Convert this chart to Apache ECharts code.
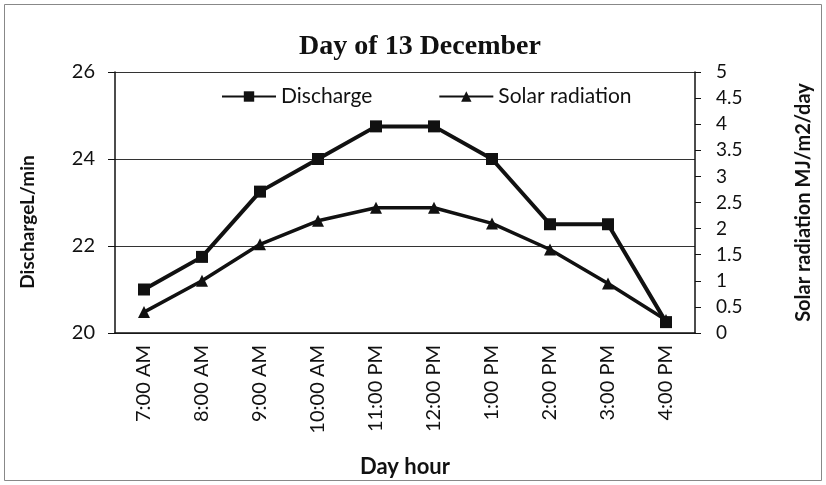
<!DOCTYPE html>
<html>
<head>
<meta charset="utf-8">
<title>Day of 13 December</title>
<script src="https://cdn.jsdelivr.net/npm/echarts@6/dist/echarts.min.js"></script>
<style>
  html, body { margin: 0; padding: 0; background: #fff; }
  #chart { width: 826px; height: 485px; }
</style>
</head>
<body>
<div id="chart"></div>
<script>
// data
var hours = ['7:00 AM', '8:00 AM', '9:00 AM', '10:00 AM', '11:00 PM', '12:00 PM', '1:00 PM', '2:00 PM', '3:00 PM', '4:00 PM'];
var discharge = [21, 21.75, 23.25, 24, 24.75, 24.75, 24, 22.5, 22.5, 20.25];
var solar = [0.4, 1.0, 1.7, 2.15, 2.4, 2.4, 2.1, 1.6, 0.95, 0.25];

var fontSans = 'Lato';
var ink = '#111';

var chart = echarts.init(document.getElementById('chart'));
chart.setOption({
    animation: false,
    backgroundColor: '#fff',
    title: {
        text: 'Day of 13 December',
        left: 415, top: 28, textAlign: 'center',
        textStyle: { fontFamily: 'Liberation Serif', fontWeight: 'bold', fontSize: 28, color: ink }
    },
    legend: {
        top: 81, left: 216, itemGap: 66,
        itemWidth: 54, itemHeight: 13,
        textStyle: { fontFamily: fontSans, fontSize: 21, color: ink },
        data: ['Discharge', 'Solar radiation']
    },
    grid: { left: 115, right: 131, top: 72, bottom: 152, outerBoundsMode: 'none' },
    xAxis: {
        type: 'category', data: hours, boundaryGap: true,
        name: 'Day hour', nameLocation: 'middle', nameGap: 123,
        nameTextStyle: { fontFamily: fontSans, fontWeight: 'bold', fontSize: 22, color: ink },
        axisLine: { lineStyle: { color: ink, width: 1.5 } },
        axisTick: { show: false },
        axisLabel: { rotate: 90, interval: 0, margin: 12, fontFamily: fontSans, fontSize: 20, color: ink }
    },
    yAxis: [{
        type: 'value', min: 20, max: 26, interval: 2,
        axisLine: { show: true, lineStyle: { color: ink, width: 1.5 } },
        axisTick: { show: true, length: 7, lineStyle: { color: ink } },
        axisLabel: { margin: 20, fontFamily: fontSans, fontSize: 20, color: ink },
        splitLine: { show: true, lineStyle: { color: '#333', width: 1 } }
    }, {
        type: 'value', min: 0, max: 5, interval: 0.5, position: 'right',
        name: 'Solar radiation MJ/m2/day', nameLocation: 'middle', nameGap: 99, nameRotate: 90,
        nameTextStyle: { fontFamily: fontSans, fontWeight: 'bold', fontSize: 20, color: ink },
        axisLine: { show: true, lineStyle: { color: ink, width: 1.5 } },
        axisTick: { show: true, length: 6, lineStyle: { color: ink } },
        axisLabel: { margin: 21, fontFamily: fontSans, fontSize: 19, color: ink },
        splitLine: { show: false }
    }],
    series: [{
        name: 'Discharge', type: 'line', data: discharge, yAxisIndex: 0,
        symbol: 'rect', symbolSize: 12,
        lineStyle: { color: ink, width: 4 },
        itemStyle: { color: ink }
    }, {
        name: 'Solar radiation', type: 'line', data: solar, yAxisIndex: 1,
        symbol: 'triangle', symbolSize: 12,
        lineStyle: { color: ink, width: 3.5 },
        itemStyle: { color: ink }
    }],
    graphic: [{
        type: 'rect', silent: true,
        shape: { x: 4.5, y: 4.5, width: 817, height: 476 },
        style: { fill: 'none', stroke: '#888', lineWidth: 1 }
    }, {
        type: 'text', x: 28, y: 222, rotation: Math.PI / 2,
        style: {
            text: 'DischargeL/min', align: 'center', verticalAlign: 'middle',
            font: 'bold 19px ' + fontSans, fill: ink
        }
    }]
});
</script>
</body>
</html>
